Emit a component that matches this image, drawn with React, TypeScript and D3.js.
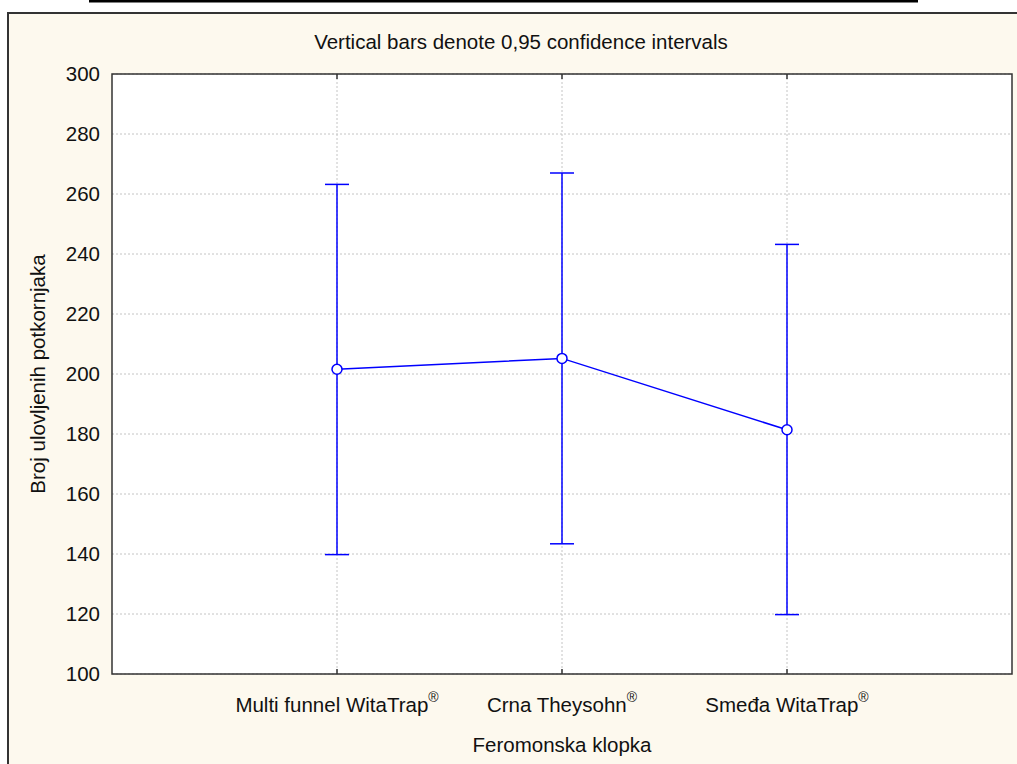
import React from "react";
import * as d3 from "d3";

const categories = ["Multi funnel WitaTrap", "Crna Theysohn", "Smeđa WitaTrap"];
const means = [201.6, 205.2, 181.4];
const lower = [139.8, 143.4, 119.8];
const upper = [263.2, 267.0, 243.2];
const yTicks = [100, 120, 140, 160, 180, 200, 220, 240, 260, 280, 300];

const W = 1017;
const H = 764;
const margin = { top: 74, right: 5, bottom: 90, left: 112 };
const font = "'Liberation Sans', Arial, sans-serif";
const fs = 20.5;
const blue = "#0000ff";

const App: React.FC = () => {
  const x = d3
    .scalePoint<string>()
    .domain(categories)
    .range([margin.left, W - margin.right])
    .padding(1);
  const y = d3
    .scaleLinear()
    .domain([100, 300])
    .range([H - margin.bottom, margin.top]);

  const line = d3
    .line<number>()
    .x((_, i) => x(categories[i]) as number)
    .y((d) => y(d));

  const x0 = margin.left;
  const x1 = W - margin.right;
  const y0 = margin.top;
  const y1 = H - margin.bottom;

  return (
    <div style={{ position: "fixed", left: 0, top: 0 }}>
      <svg width={W} height={H} style={{ display: "block", fontFamily: font }}>
        <rect x={0} y={0} width={W} height={H} fill="#ffffff" />
        {/* top rule */}
        <line x1={89} x2={918} y1={1} y2={1} stroke="#000" strokeWidth={3} />
        {/* outer frame */}
        <rect x={8} y={13} width={W + 10} height={H} fill="#fdf9ee" stroke="#333" strokeWidth={2} />
        <rect x={x0} y={y0} width={x1 - x0} height={y1 - y0} fill="#ffffff" />

        {/* grid */}
        {yTicks.map((t) => (
          <line
            key={"gy" + t}
            x1={x0}
            x2={x1}
            y1={y(t)}
            y2={y(t)}
            stroke="#c4c4c4"
            strokeWidth={1}
            strokeDasharray="2,2"
          />
        ))}
        {categories.map((c) => (
          <line
            key={"gx" + c}
            x1={x(c)}
            x2={x(c)}
            y1={y0}
            y2={y1}
            stroke="#c4c4c4"
            strokeWidth={1}
            strokeDasharray="2,2"
          />
        ))}

        {/* plot border and ticks */}
        <rect x={x0} y={y0} width={x1 - x0} height={y1 - y0} fill="none" stroke="#333" strokeWidth={1.5} />
        {categories.map((c) => (
          <g key={"tk" + c}>
            <line x1={x(c)} x2={x(c)} y1={y0} y2={y0 + 5} stroke="#333" strokeWidth={1.5} />
            <line x1={x(c)} x2={x(c)} y1={y1} y2={y1 - 5} stroke="#333" strokeWidth={1.5} />
          </g>
        ))}

        {/* y tick labels */}
        {yTicks.map((t) => (
          <text
            key={"yl" + t}
            x={x0 - 12}
            y={y(t)}
            dy="0.35em"
            textAnchor="end"
            fontSize={fs}
            fill="#111"
          >
            {t}
          </text>
        ))}

        {/* x tick labels */}
        {categories.map((c) => (
          <text key={"xl" + c} x={x(c)} y={712} textAnchor="middle" fontSize={fs} fill="#111">
            {c}
            <tspan dy={-10} fontSize={14}>
              ®
            </tspan>
          </text>
        ))}

        {/* error bars */}
        {categories.map((c, i) => {
          const cx = x(c) as number;
          return (
            <g key={"eb" + c} stroke={blue} strokeWidth={1.5}>
              <line x1={cx} x2={cx} y1={y(lower[i])} y2={y(upper[i])} />
              <line x1={cx - 12} x2={cx + 12} y1={y(upper[i])} y2={y(upper[i])} />
              <line x1={cx - 12} x2={cx + 12} y1={y(lower[i])} y2={y(lower[i])} />
            </g>
          );
        })}

        <path d={line(means) || ""} fill="none" stroke={blue} strokeWidth={1.5} />
        {means.map((m, i) => (
          <circle
            key={"pt" + i}
            cx={x(categories[i])}
            cy={y(m)}
            r={5}
            fill="#fff"
            stroke={blue}
            strokeWidth={1.5}
          />
        ))}

        {/* titles */}
        <text x={521} y={49} textAnchor="middle" fontSize={fs} fill="#111">
          Vertical bars denote 0,95 confidence intervals
        </text>
        <text x={(x0 + x1) / 2} y={752} textAnchor="middle" fontSize={fs} fill="#111">
          Feromonska klopka
        </text>
        <text
          transform={`translate(45,${(y0 + y1) / 2}) rotate(-90)`}
          textAnchor="middle"
          fontSize={fs}
          fill="#111"
        >
          Broj ulovljenih potkornjaka
        </text>
      </svg>
    </div>
  );
};

export default App;
